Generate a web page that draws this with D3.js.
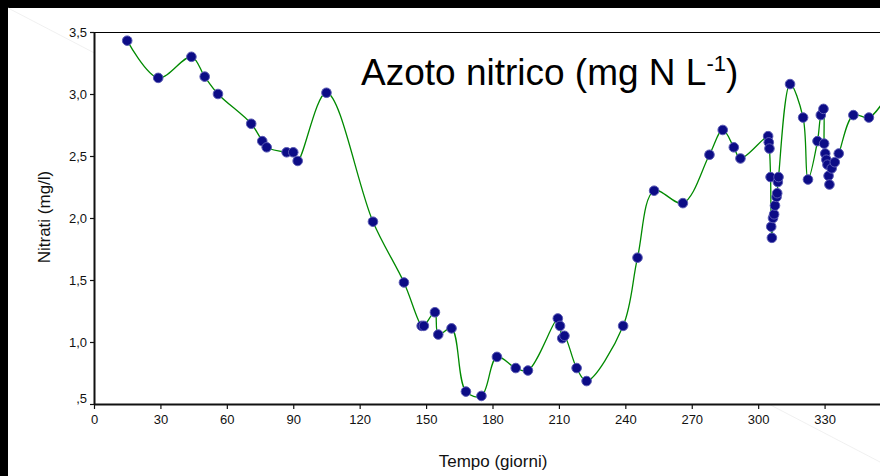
<!DOCTYPE html>
<html>
<head>
<meta charset="utf-8">
<script src="https://cdn.jsdelivr.net/npm/d3@7"></script>
<style>
  body { margin: 0; background: #000; }
  svg { display: block; font-family: 'Liberation Sans', Arial, sans-serif; }
</style>
</head>
<body>
<div id="chart"></div>
<script>
// Days of sampling and nitrate values (mg/l)
const days = [
  15, 29, 44, 50, 56, 71, 76, 78, 87, 90, 92, 105, 126, 140, 148, 149,
  154, 155.5, 161.5, 168, 175, 182, 190.5, 196, 209.5, 210.5, 211.5, 212.5,
  218, 222.5, 239, 245.5, 253, 266, 278, 284, 289, 292,
  304.5, 304.8, 305.1, 305.6, 305.9, 306.2, 306.7, 307.2, 307.6, 308.3,
  308.6, 308.9, 309.2, 314.4, 320.3, 322.5, 326.8, 328.3, 329.5, 329.8,
  330.3, 330.8, 331.3, 331.8, 332.2, 333.2, 334.6, 336.4, 343, 350, 358
]
const nitrati = [
  3.43, 3.13, 3.30, 3.14, 3.00, 2.76, 2.62, 2.57, 2.53, 2.53, 2.46, 3.01, 1.97, 1.48, 1.13, 1.13,
  1.24, 1.06, 1.11, 0.60, 0.565, 0.88, 0.79, 0.77, 1.19, 1.13, 1.03, 1.05,
  0.79, 0.685, 1.13, 1.68, 2.22, 2.12, 2.51, 2.71, 2.57, 2.48,
  2.66, 2.61, 2.56, 2.33, 1.93, 1.84, 2.00, 2.03, 2.10, 2.17,
  2.20, 2.29, 2.33, 3.08, 2.81, 2.31, 2.62, 2.83, 2.88, 2.60,
  2.52, 2.47, 2.43, 2.34, 2.27, 2.40, 2.45, 2.52, 2.83, 2.81, 2.98
]
const xTicks = [0, 30, 60, 90, 120, 150, 180, 210, 240, 270, 300, 330]
const yTicks = [0.5, 1.0, 1.5, 2.0, 2.5, 3.0, 3.5]

const data = days.map((d, i) => ({ day: d, value: nitrati[i] }))

const width = 880
const height = 476
const plot = { left: 94, top: 32, right: 891, bottom: 404 }

const svg = d3.select('#chart')
  .append('svg')
  .attr('width', width)
  .attr('height', height)

// White page with its faint diagonal
svg.append('rect')
  .attr('x', 8).attr('y', 8)
  .attr('width', width - 8).attr('height', height - 8)
  .attr('fill', '#fff')

svg.append('line')
  .attr('x1', 8).attr('y1', 8)
  .attr('x2', 880).attr('y2', 462)
  .attr('stroke', '#ececec')
  .attr('stroke-width', 0.8)

svg.append('rect')
  .attr('x', plot.left).attr('y', plot.top)
  .attr('width', plot.right - plot.left).attr('height', plot.bottom - plot.top)
  .attr('fill', '#fff')

const xScale = d3.scaleLinear().domain([0, 360]).range([plot.left, plot.right])
const yScale = d3.scaleLinear().domain([0.5, 3.5]).range([plot.bottom, plot.top])

svg.append('defs').append('clipPath')
  .attr('id', 'plot-clip')
  .append('rect')
  .attr('x', plot.left).attr('y', plot.top)
  .attr('width', plot.right - plot.left).attr('height', plot.bottom - plot.top)

// Top frame line
svg.append('line')
  .attr('x1', plot.left).attr('x2', plot.right)
  .attr('y1', plot.top + 0.5).attr('y2', plot.top + 0.5)
  .attr('stroke', '#000')

// Smoothed line
const line = d3.line()
  .x(d => xScale(d.day))
  .y(d => yScale(d.value))
  .curve(d3.curveCatmullRom.alpha(0.5))

svg.append('path')
  .datum(data)
  .attr('clip-path', 'url(#plot-clip)')
  .attr('fill', 'none')
  .attr('stroke', '#008a00')
  .attr('stroke-width', 1.3)
  .attr('d', line)

// Markers
svg.append('g')
  .selectAll('circle')
  .data(data)
  .join('circle')
  .attr('cx', d => xScale(d.day))
  .attr('cy', d => yScale(d.value))
  .attr('r', 4.8)
  .attr('fill', '#0c0c86')
  .attr('stroke', '#5a5ab4')
  .attr('stroke-width', 1)

// Bottom axis
const xAxis = svg.append('g')
  .attr('transform', `translate(0, ${plot.bottom})`)
  .call(d3.axisBottom(xScale).tickValues(xTicks).tickSize(5).tickSizeOuter(0))
xAxis.select('.domain').attr('stroke', '#111').attr('stroke-width', 2)
xAxis.selectAll('.tick line').attr('stroke', '#111').attr('stroke-width', 1.2)
xAxis.selectAll('.tick text')
  .attr('font-size', 13)
  .attr('font-family', 'Liberation Sans, Arial, sans-serif')
  .attr('fill', '#111')
  .attr('dy', '0.9em')

// Left axis
const fmt = v => d3.format('.1f')(v).replace('.', ',').replace(/^0/, '')
const yAxis = svg.append('g')
  .attr('transform', `translate(${plot.left}, 0)`)
  .call(d3.axisLeft(yScale).tickValues(yTicks).tickSize(4).tickSizeOuter(0).tickFormat(fmt))
yAxis.select('.domain').attr('stroke', '#111').attr('stroke-width', 2)
yAxis.selectAll('.tick line').attr('stroke', '#111').attr('stroke-width', 1.2)
yAxis.selectAll('.tick text')
  .attr('font-size', 13)
  .attr('font-family', 'Liberation Sans, Arial, sans-serif')
  .attr('fill', '#111')
  .attr('x', -7)
  .attr('dy', d => d === 0.5 ? '-0.1em' : '0.32em')

// Axis titles
svg.append('text')
  .attr('x', 493).attr('y', 467)
  .attr('text-anchor', 'middle')
  .attr('font-size', 17)
  .attr('fill', '#111')
  .text('Tempo (giorni)')

svg.append('text')
  .attr('transform', 'translate(50, 217) rotate(-90)')
  .attr('text-anchor', 'middle')
  .attr('font-size', 17)
  .attr('fill', '#111')
  .text('Nitrati (mg/l)')

// Chart title with superscript
const title = svg.append('text')
  .attr('x', 361).attr('y', 85)
  .attr('font-size', 37)
  .attr('fill', '#000')
title.append('tspan').text('Azoto nitrico (mg N L')
title.append('tspan').attr('font-size', 22).attr('dy', -14).text('-1')
title.append('tspan').attr('dy', 14).text(')')
</script>
</body>
</html>
